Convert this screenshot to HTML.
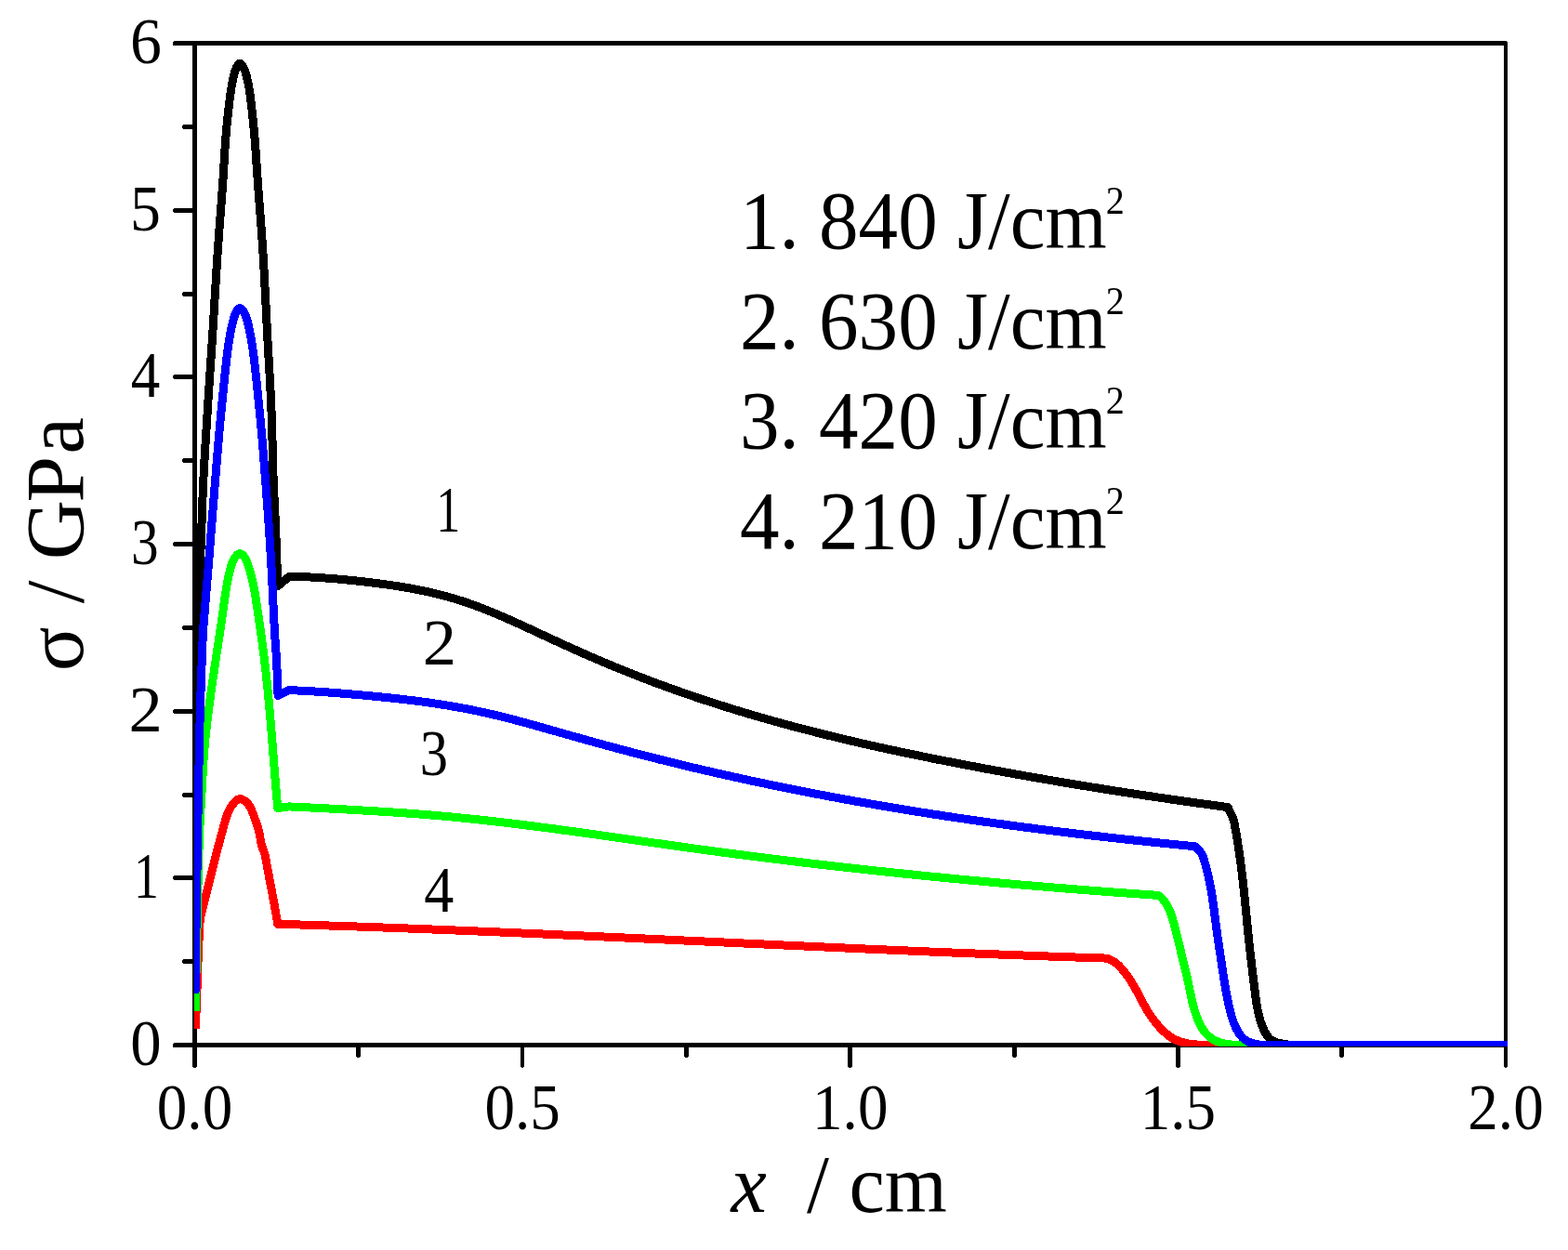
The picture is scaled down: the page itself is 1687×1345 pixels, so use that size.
<!DOCTYPE html>
<html lang="en"><head><meta charset="utf-8"><title>Stress profiles</title>
<style>html,body{margin:0;padding:0;background:#fff;}body{width:1687px;height:1345px;overflow:hidden;}svg{display:block;}text{font-family:"Liberation Serif",serif;fill:#000;white-space:pre;}</style>
</head><body>
<svg width="1687" height="1345" viewBox="0 0 1687 1345">
<rect x="0" y="0" width="1687" height="1345" fill="#fff"/>
<defs><clipPath id="plot"><rect x="209" y="40" width="1413" height="1086"/></clipPath></defs>
<g fill="#000" shape-rendering="crispEdges">
<rect x="207" y="44" width="5" height="1104"/>
<rect x="208" y="1148" width="3" height="1"/>
<rect x="1618" y="45" width="4" height="1103"/>
<rect x="1619" y="1148" width="2" height="1"/>
<rect x="187" y="44" width="1434" height="5"/>
<rect x="186" y="45" width="1" height="4"/>
<rect x="187" y="1122" width="1435" height="5"/>
<rect x="186" y="1123" width="1" height="4"/>
</g>
<g fill="#000" shape-rendering="crispEdges">
<rect x="560" y="1126" width="4" height="22"/>
<rect x="561" y="1148" width="2" height="1"/>
<rect x="912" y="1126" width="5" height="22"/>
<rect x="913" y="1148" width="3" height="1"/>
<rect x="1265" y="1126" width="5" height="22"/>
<rect x="1266" y="1148" width="3" height="1"/>
<rect x="383" y="1126" width="5" height="11"/>
<rect x="384" y="1137" width="3" height="1"/>
<rect x="736" y="1126" width="5" height="11"/>
<rect x="737" y="1137" width="3" height="1"/>
<rect x="1089" y="1126" width="5" height="11"/>
<rect x="1090" y="1137" width="3" height="1"/>
<rect x="1441" y="1126" width="5" height="11"/>
<rect x="1442" y="1137" width="3" height="1"/>
<rect x="187" y="942" width="21" height="5"/>
<rect x="186" y="943" width="1" height="3"/>
<rect x="187" y="763" width="21" height="5"/>
<rect x="186" y="764" width="1" height="3"/>
<rect x="187" y="583" width="21" height="5"/>
<rect x="186" y="584" width="1" height="3"/>
<rect x="187" y="403" width="21" height="5"/>
<rect x="186" y="404" width="1" height="3"/>
<rect x="187" y="224" width="21" height="5"/>
<rect x="186" y="225" width="1" height="3"/>
<rect x="197" y="1032" width="11" height="5"/>
<rect x="196" y="1033" width="1" height="3"/>
<rect x="197" y="853" width="11" height="5"/>
<rect x="196" y="854" width="1" height="3"/>
<rect x="197" y="673" width="11" height="5"/>
<rect x="196" y="674" width="1" height="3"/>
<rect x="197" y="493" width="11" height="5"/>
<rect x="196" y="494" width="1" height="3"/>
<rect x="197" y="314" width="11" height="5"/>
<rect x="196" y="315" width="1" height="3"/>
<rect x="197" y="134" width="11" height="5"/>
<rect x="196" y="135" width="1" height="3"/>
</g>
<g clip-path="url(#plot)" fill="none" stroke-width="9.00" stroke-linejoin="round" stroke-linecap="butt" shape-rendering="crispEdges">
<path stroke="#000000" d="M209.80,1052.00 L209.90,1035.11 L209.99,1018.13 L210.08,1001.09 L210.16,984.02 L210.25,966.95 L210.34,949.91 L210.43,932.93 L210.52,916.04 L210.63,899.28 L210.74,882.66 L210.86,866.22 L211.00,850.00 L211.13,835.00 L211.27,819.65 L211.41,804.10 L211.56,788.51 L211.71,773.02 L211.87,757.78 L212.04,742.94 L212.21,728.65 L212.39,715.06 L212.59,702.32 L212.79,690.59 L213.00,680.00 L213.12,674.80 L213.24,669.96 L213.37,665.44 L213.50,661.17 L213.63,657.11 L213.76,653.21 L213.90,649.40 L214.03,645.64 L214.17,641.87 L214.31,638.05 L214.46,634.11 L214.60,630.00 L214.75,625.71 L214.90,621.43 L215.05,617.14 L215.21,612.86 L215.36,608.56 L215.52,604.26 L215.68,599.94 L215.84,595.60 L216.01,591.24 L216.17,586.86 L216.33,582.45 L216.50,578.00 L216.67,573.27 L216.84,568.54 L217.00,563.81 L217.16,559.06 L217.32,554.28 L217.48,549.48 L217.65,544.63 L217.83,539.73 L218.03,534.76 L218.23,529.73 L218.46,524.61 L218.70,519.40 L219.01,513.19 L219.34,506.82 L219.70,500.33 L220.07,493.74 L220.47,487.06 L220.87,480.31 L221.28,473.52 L221.70,466.72 L222.13,459.91 L222.56,453.12 L222.98,446.38 L223.40,439.70 L223.82,433.07 L224.25,426.46 L224.68,419.87 L225.13,413.29 L225.57,406.70 L226.02,400.11 L226.47,393.51 L226.92,386.88 L227.37,380.22 L227.81,373.53 L228.26,366.79 L228.70,360.00 L229.16,352.75 L229.62,345.39 L230.07,337.96 L230.52,330.46 L230.98,322.93 L231.43,315.39 L231.88,307.88 L232.34,300.40 L232.80,292.99 L233.26,285.67 L233.73,278.46 L234.20,271.40 L234.63,265.17 L235.07,259.01 L235.51,252.93 L235.96,246.90 L236.41,240.93 L236.87,235.00 L237.32,229.11 L237.76,223.26 L238.21,217.43 L238.65,211.61 L239.08,205.80 L239.50,200.00 L239.88,194.46 L240.25,188.90 L240.59,183.34 L240.93,177.79 L241.27,172.26 L241.60,166.77 L241.95,161.32 L242.30,155.93 L242.68,150.61 L243.09,145.38 L243.52,140.24 L244.00,135.20 L244.44,130.89 L244.89,126.52 L245.36,122.14 L245.84,117.78 L246.35,113.47 L246.86,109.25 L247.39,105.14 L247.93,101.19 L248.48,97.43 L249.04,93.89 L249.62,90.60 L250.20,87.60 L250.53,86.00 L250.86,84.46 L251.19,82.97 L251.52,81.54 L251.85,80.17 L252.19,78.87 L252.54,77.63 L252.89,76.46 L253.27,75.36 L253.66,74.33 L254.07,73.38 L254.50,72.50 L254.77,72.00 L255.04,71.50 L255.32,71.01 L255.61,70.54 L255.90,70.08 L256.19,69.67 L256.49,69.29 L256.79,68.96 L257.09,68.69 L257.40,68.48 L257.70,68.35 L258.00,68.30 L258.31,68.34 L258.63,68.46 L258.95,68.66 L259.27,68.93 L259.60,69.26 L259.93,69.64 L260.25,70.06 L260.58,70.52 L260.89,71.00 L261.20,71.49 L261.51,72.00 L261.80,72.50 L262.27,73.38 L262.72,74.33 L263.16,75.35 L263.58,76.45 L263.98,77.62 L264.38,78.86 L264.76,80.16 L265.14,81.53 L265.51,82.96 L265.87,84.45 L266.24,86.00 L266.60,87.60 L267.22,90.60 L267.81,93.88 L268.39,97.43 L268.94,101.19 L269.47,105.15 L269.99,109.25 L270.49,113.48 L270.98,117.79 L271.45,122.15 L271.91,126.53 L272.36,130.89 L272.80,135.20 L273.29,140.20 L273.75,145.29 L274.17,150.48 L274.58,155.74 L274.97,161.07 L275.35,166.46 L275.72,171.90 L276.08,177.37 L276.45,182.86 L276.82,188.37 L277.20,193.89 L277.60,199.40 L278.04,205.23 L278.48,211.08 L278.93,216.94 L279.39,222.82 L279.84,228.74 L280.30,234.69 L280.75,240.68 L281.20,246.71 L281.64,252.79 L282.07,258.93 L282.49,265.13 L282.90,271.40 L283.33,278.44 L283.76,285.60 L284.17,292.87 L284.56,300.23 L284.95,307.64 L285.34,315.10 L285.72,322.57 L286.09,330.04 L286.47,337.48 L286.84,344.86 L287.22,352.18 L287.60,359.40 L287.97,366.22 L288.35,373.00 L288.73,379.74 L289.12,386.45 L289.50,393.13 L289.88,399.80 L290.25,406.45 L290.61,413.09 L290.96,419.73 L291.30,426.37 L291.61,433.03 L291.90,439.70 L292.16,446.41 L292.40,453.23 L292.62,460.11 L292.82,467.03 L293.00,473.94 L293.18,480.81 L293.35,487.62 L293.52,494.32 L293.70,500.88 L293.89,507.27 L294.08,513.46 L294.30,519.40 L294.48,523.84 L294.67,528.14 L294.86,532.31 L295.06,536.37 L295.26,540.35 L295.46,544.27 L295.66,548.15 L295.86,552.00 L296.06,555.85 L296.25,559.72 L296.43,563.63 L296.60,567.60 L296.76,571.66 L296.92,575.85 L297.08,580.14 L297.23,584.46 L297.38,588.79 L297.52,593.06 L297.66,597.25 L297.80,601.29 L297.93,605.16 L298.06,608.79 L298.18,612.16 L298.30,615.20 L298.37,616.77 L298.43,618.24 L298.49,619.62 L298.55,620.93 L298.61,622.17 L298.66,623.38 L298.72,624.55 L298.77,625.71 L298.83,626.87 L298.89,628.05 L298.94,629.25 L299.00,630.50 L311.50,620.20 L315.50,620.29 L319.50,620.40 L323.50,620.53 L327.50,620.69 L331.50,620.87 L335.50,621.08 L339.50,621.30 L343.50,621.55 L347.50,621.82 L351.50,622.10 L355.50,622.41 L359.50,622.73 L363.50,623.07 L367.50,623.43 L371.50,623.81 L375.50,624.20 L379.50,624.61 L383.50,625.03 L387.50,625.47 L391.50,625.92 L395.50,626.39 L399.50,626.87 L403.50,627.36 L407.50,627.87 L411.50,628.40 L415.50,628.95 L419.50,629.51 L423.50,630.10 L427.50,630.72 L431.50,631.36 L435.50,632.02 L439.50,632.71 L443.50,633.44 L447.50,634.19 L451.50,634.98 L455.50,635.80 L459.50,636.66 L463.50,637.55 L467.50,638.49 L471.50,639.46 L475.50,640.48 L479.50,641.54 L483.50,642.64 L487.50,643.79 L491.50,644.99 L495.50,646.24 L499.50,647.54 L503.50,648.89 L507.50,650.29 L511.50,651.74 L515.50,653.24 L519.50,654.77 L523.50,656.35 L527.50,657.97 L531.50,659.61 L535.50,661.30 L539.50,663.01 L543.50,664.75 L547.50,666.51 L551.50,668.29 L555.50,670.10 L559.50,671.91 L563.50,673.75 L567.50,675.59 L571.50,677.45 L575.50,679.31 L579.50,681.17 L583.50,683.03 L587.50,684.90 L591.50,686.75 L595.50,688.61 L599.50,690.45 L603.50,692.28 L607.50,694.10 L611.50,695.91 L615.50,697.72 L619.50,699.51 L623.50,701.29 L627.50,703.05 L631.50,704.81 L635.50,706.55 L639.50,708.28 L643.50,710.00 L647.50,711.71 L651.50,713.40 L655.50,715.08 L659.50,716.74 L663.50,718.39 L667.50,720.03 L671.50,721.65 L675.50,723.25 L679.50,724.84 L683.50,726.42 L687.50,727.98 L691.50,729.53 L695.50,731.06 L699.50,732.58 L703.50,734.09 L707.50,735.58 L711.50,737.06 L715.50,738.52 L719.50,739.97 L723.50,741.41 L727.50,742.83 L731.50,744.25 L735.50,745.64 L739.50,747.03 L743.50,748.40 L747.50,749.76 L751.50,751.11 L755.50,752.45 L759.50,753.77 L763.50,755.08 L767.50,756.38 L771.50,757.67 L775.50,758.94 L779.50,760.21 L783.50,761.46 L787.50,762.70 L791.50,763.93 L795.50,765.15 L799.50,766.36 L803.50,767.56 L807.50,768.74 L811.50,769.92 L815.50,771.08 L819.50,772.24 L823.50,773.38 L827.50,774.51 L831.50,775.64 L835.50,776.75 L839.50,777.85 L843.50,778.95 L847.50,780.03 L851.50,781.11 L855.50,782.17 L859.50,783.23 L863.50,784.28 L867.50,785.32 L871.50,786.35 L875.50,787.37 L879.50,788.38 L883.50,789.38 L887.50,790.38 L891.50,791.37 L895.50,792.34 L899.50,793.32 L903.50,794.28 L907.50,795.23 L911.50,796.18 L915.50,797.12 L919.50,798.05 L923.50,798.98 L927.50,799.90 L931.50,800.81 L935.50,801.71 L939.50,802.61 L943.50,803.50 L947.50,804.38 L951.50,805.26 L955.50,806.13 L959.50,806.99 L963.50,807.85 L967.50,808.70 L971.50,809.55 L975.50,810.39 L979.50,811.23 L983.50,812.06 L987.50,812.88 L991.50,813.70 L995.50,814.51 L999.50,815.32 L1003.50,816.13 L1007.50,816.93 L1011.50,817.72 L1015.50,818.51 L1019.50,819.30 L1023.50,820.08 L1027.50,820.85 L1031.50,821.63 L1035.50,822.39 L1039.50,823.16 L1043.50,823.92 L1047.50,824.68 L1051.50,825.43 L1055.50,826.18 L1059.50,826.93 L1063.50,827.67 L1067.50,828.41 L1071.50,829.15 L1075.50,829.88 L1079.50,830.61 L1083.50,831.34 L1087.50,832.06 L1091.50,832.78 L1095.50,833.49 L1099.50,834.20 L1103.50,834.91 L1107.50,835.62 L1111.50,836.32 L1115.50,837.01 L1119.50,837.71 L1123.50,838.40 L1127.50,839.09 L1131.50,839.77 L1135.50,840.45 L1139.50,841.13 L1143.50,841.80 L1147.50,842.48 L1151.50,843.14 L1155.50,843.81 L1159.50,844.47 L1163.50,845.13 L1167.50,845.78 L1171.50,846.43 L1175.50,847.08 L1179.50,847.73 L1183.50,848.37 L1187.50,849.01 L1191.50,849.64 L1195.50,850.27 L1199.50,850.90 L1203.50,851.53 L1207.50,852.15 L1211.50,852.77 L1215.50,853.39 L1219.50,854.00 L1223.50,854.61 L1227.50,855.22 L1231.50,855.82 L1235.50,856.42 L1239.50,857.02 L1243.50,857.62 L1247.50,858.21 L1251.50,858.80 L1255.50,859.39 L1259.50,859.97 L1263.50,860.55 L1267.50,861.13 L1271.50,861.70 L1275.50,862.27 L1279.50,862.84 L1283.50,863.41 L1287.50,863.97 L1291.50,864.53 L1295.50,865.09 L1299.50,865.64 L1303.50,866.19 L1307.50,866.74 L1311.50,867.29 L1315.50,867.83 L1319.50,868.37 L1321.20,868.60 L1321.75,869.97 L1322.35,871.34 L1322.97,872.70 L1323.61,874.05 L1324.26,875.41 L1324.89,876.77 L1325.50,878.14 L1326.08,879.52 L1326.61,880.92 L1327.08,882.33 L1327.49,883.76 L1327.85,885.21 L1328.17,886.66 L1328.46,888.13 L1328.74,889.60 L1329.01,891.07 L1329.27,892.54 L1329.53,894.01 L1329.79,895.48 L1330.05,896.95 L1330.30,898.43 L1330.55,899.90 L1330.80,901.37 L1331.04,902.84 L1331.29,904.32 L1331.53,905.79 L1331.76,907.26 L1331.99,908.74 L1332.22,910.21 L1332.45,911.69 L1332.67,913.16 L1332.90,914.64 L1333.11,916.11 L1333.33,917.59 L1333.54,919.07 L1333.75,920.54 L1333.96,922.02 L1334.16,923.50 L1334.36,924.98 L1334.56,926.46 L1334.76,927.94 L1334.95,929.42 L1335.14,930.90 L1335.33,932.38 L1335.52,933.86 L1335.70,935.34 L1335.88,936.82 L1336.06,938.30 L1336.24,939.79 L1336.42,941.27 L1336.59,942.75 L1336.76,944.24 L1336.93,945.72 L1337.10,947.20 L1337.27,948.69 L1337.43,950.17 L1337.60,951.66 L1337.76,953.14 L1337.92,954.63 L1338.08,956.11 L1338.23,957.60 L1338.39,959.08 L1338.55,960.57 L1338.70,962.06 L1338.85,963.54 L1339.01,965.03 L1339.16,966.51 L1339.31,968.00 L1339.46,969.49 L1339.61,970.97 L1339.75,972.46 L1339.90,973.95 L1340.05,975.43 L1340.20,976.92 L1340.34,978.41 L1340.49,979.89 L1340.63,981.38 L1340.78,982.87 L1340.93,984.35 L1341.07,985.84 L1341.22,987.33 L1341.36,988.81 L1341.51,990.30 L1341.65,991.79 L1341.80,993.27 L1341.95,994.76 L1342.09,996.24 L1342.24,997.73 L1342.39,999.21 L1342.54,1000.70 L1342.69,1002.18 L1342.84,1003.67 L1342.99,1005.15 L1343.14,1006.64 L1343.30,1008.12 L1343.45,1009.61 L1343.60,1011.09 L1343.76,1012.57 L1343.92,1014.06 L1344.08,1015.54 L1344.24,1017.02 L1344.40,1018.50 L1344.56,1019.98 L1344.73,1021.47 L1344.89,1022.95 L1345.06,1024.43 L1345.23,1025.91 L1345.40,1027.39 L1345.57,1028.87 L1345.74,1030.35 L1345.91,1031.83 L1346.08,1033.31 L1346.26,1034.79 L1346.43,1036.27 L1346.61,1037.75 L1346.79,1039.23 L1346.97,1040.71 L1347.15,1042.19 L1347.33,1043.67 L1347.51,1045.15 L1347.69,1046.64 L1347.87,1048.12 L1348.05,1049.60 L1348.23,1051.08 L1348.42,1052.56 L1348.60,1054.05 L1348.78,1055.53 L1348.97,1057.01 L1349.15,1058.50 L1349.34,1059.98 L1349.52,1061.47 L1349.71,1062.95 L1349.89,1064.44 L1350.08,1065.93 L1350.26,1067.42 L1350.45,1068.90 L1350.64,1070.39 L1350.83,1071.88 L1351.02,1073.37 L1351.22,1074.85 L1351.43,1076.34 L1351.64,1077.82 L1351.87,1079.30 L1352.10,1080.78 L1352.34,1082.26 L1352.60,1083.73 L1352.86,1085.20 L1353.14,1086.67 L1353.44,1088.13 L1353.75,1089.59 L1354.08,1091.05 L1354.42,1092.49 L1354.79,1093.94 L1355.17,1095.38 L1355.58,1096.81 L1356.01,1098.23 L1356.46,1099.65 L1356.94,1101.06 L1357.44,1102.47 L1357.97,1103.87 L1358.52,1105.25 L1359.11,1106.63 L1359.72,1108.01 L1360.37,1109.37 L1361.05,1110.70 L1361.78,1112.01 L1362.56,1113.28 L1363.39,1114.50 L1364.28,1115.66 L1365.24,1116.75 L1366.28,1117.76 L1367.39,1118.69 L1368.59,1119.52 L1369.87,1120.25 L1371.25,1120.87 L1372.70,1121.39 L1374.20,1121.84 L1375.72,1122.22 L1377.26,1122.56 L1378.78,1122.87 L1380.27,1123.16 L1381.75,1123.43 L1383.20,1123.68 L1384.65,1123.90 L1386.10,1124.10 L1387.54,1124.26 L1388.99,1124.39 L1390.46,1124.48 L1391.94,1124.54 L1393.44,1124.55 L1395.00,1124.50 L1410.00,1124.50 L1630.00,1124.50"/>
<path stroke="#ff0000" d="M210.40,1107.00 L210.55,1102.94 L210.70,1098.85 L210.86,1094.74 L211.01,1090.61 L211.16,1086.49 L211.31,1082.38 L211.47,1078.29 L211.62,1074.23 L211.77,1070.21 L211.91,1066.24 L212.06,1062.33 L212.20,1058.50 L212.32,1055.15 L212.44,1051.84 L212.55,1048.55 L212.67,1045.29 L212.78,1042.06 L212.89,1038.87 L213.00,1035.72 L213.11,1032.60 L213.23,1029.51 L213.35,1026.47 L213.47,1023.46 L213.60,1020.50 L213.72,1017.90 L213.84,1015.22 L213.97,1012.51 L214.10,1009.79 L214.23,1007.09 L214.36,1004.46 L214.49,1001.93 L214.62,999.52 L214.75,997.29 L214.87,995.25 L214.99,993.44 L215.10,991.90 L215.14,991.35 L215.19,990.85 L215.23,990.39 L215.27,989.96 L215.31,989.57 L215.35,989.19 L215.40,988.84 L215.44,988.48 L215.48,988.13 L215.52,987.77 L215.56,987.40 L215.60,987.00 L216.00,985.58 L216.36,984.12 L216.72,982.65 L217.08,981.19 L217.44,979.73 L217.80,978.28 L218.16,976.82 L218.52,975.36 L218.88,973.90 L219.24,972.45 L219.60,970.99 L219.96,969.54 L220.32,968.09 L220.68,966.63 L221.04,965.18 L221.39,963.73 L221.75,962.28 L222.11,960.83 L222.47,959.38 L222.83,957.93 L223.19,956.48 L223.55,955.03 L223.91,953.59 L224.27,952.14 L224.63,950.69 L224.99,949.25 L225.35,947.80 L225.71,946.35 L226.07,944.91 L226.43,943.46 L226.79,942.02 L227.16,940.57 L227.52,939.13 L227.88,937.68 L228.25,936.24 L228.61,934.79 L228.98,933.35 L229.35,931.90 L229.71,930.46 L230.08,929.01 L230.45,927.57 L230.82,926.13 L231.19,924.68 L231.56,923.24 L231.94,921.79 L232.31,920.35 L232.68,918.90 L233.06,917.46 L233.43,916.01 L233.81,914.57 L234.19,913.12 L234.57,911.67 L234.95,910.23 L235.33,908.78 L235.72,907.33 L236.10,905.89 L236.49,904.44 L236.88,902.99 L237.27,901.54 L237.66,900.09 L238.05,898.64 L238.44,897.19 L238.84,895.74 L239.23,894.29 L239.63,892.84 L240.03,891.38 L240.43,889.93 L240.84,888.48 L241.24,887.02 L241.65,885.57 L242.06,884.11 L242.48,882.66 L242.91,881.21 L243.36,879.78 L243.83,878.35 L244.33,876.94 L244.85,875.54 L245.41,874.16 L246.01,872.80 L246.64,871.47 L247.32,870.15 L248.05,868.87 L248.84,867.62 L249.68,866.40 L250.58,865.21 L251.54,864.06 L252.58,862.96 L253.69,861.89 L254.88,860.91 L256.13,860.13 L257.45,859.66 L258.84,859.61 L260.26,859.98 L261.63,860.60 L262.90,861.35 L264.07,862.22 L265.16,863.19 L266.16,864.25 L267.08,865.40 L267.94,866.62 L268.73,867.90 L269.47,869.24 L270.15,870.62 L270.80,872.04 L271.41,873.48 L271.98,874.93 L272.54,876.39 L273.08,877.84 L273.60,879.27 L274.12,880.69 L274.63,882.09 L275.13,883.48 L275.62,884.86 L276.09,886.24 L276.54,887.61 L276.98,888.99 L277.40,890.37 L277.79,891.77 L278.17,893.18 L278.52,894.61 L278.84,896.05 L279.14,897.52 L279.43,899.00 L279.71,900.49 L279.99,901.98 L280.27,903.48 L280.57,904.98 L280.88,906.47 L281.21,907.95 L281.58,909.42 L281.99,910.87 L282.43,912.30 L282.92,913.71 L283.42,915.11 L283.93,916.50 L284.42,917.90 L284.87,919.31 L285.28,920.74 L285.62,922.19 L285.92,923.65 L286.19,925.13 L286.44,926.62 L286.69,928.10 L286.93,929.59 L287.19,931.07 L287.45,932.54 L287.72,934.02 L287.99,935.49 L288.26,936.96 L288.54,938.42 L288.82,939.89 L289.10,941.36 L289.38,942.82 L289.67,944.29 L289.95,945.75 L290.23,947.22 L290.51,948.69 L290.79,950.15 L291.07,951.62 L291.35,953.09 L291.63,954.56 L291.90,956.03 L292.18,957.50 L292.46,958.97 L292.73,960.44 L293.00,961.91 L293.28,963.38 L293.55,964.85 L293.82,966.32 L294.09,967.80 L294.36,969.27 L294.62,970.74 L294.89,972.21 L295.16,973.68 L295.42,975.16 L295.69,976.63 L295.95,978.10 L296.22,979.57 L296.48,981.05 L296.74,982.52 L297.00,983.99 L297.26,985.47 L297.52,986.94 L297.78,988.41 L298.03,989.88 L298.29,991.36 L298.55,992.83 L298.80,994.30 L302.80,994.41 L306.80,994.53 L310.80,994.65 L314.80,994.77 L318.80,994.89 L322.80,995.01 L326.80,995.13 L330.80,995.25 L334.80,995.38 L338.80,995.51 L342.80,995.63 L346.80,995.76 L350.80,995.89 L354.80,996.02 L358.80,996.15 L362.80,996.29 L366.80,996.42 L370.80,996.56 L374.80,996.69 L378.80,996.83 L382.80,996.97 L386.80,997.11 L390.80,997.25 L394.80,997.39 L398.80,997.53 L402.80,997.67 L406.80,997.82 L410.80,997.96 L414.80,998.11 L418.80,998.26 L422.80,998.40 L426.80,998.55 L430.80,998.70 L434.80,998.85 L438.80,999.01 L442.80,999.16 L446.80,999.31 L450.80,999.47 L454.80,999.62 L458.80,999.78 L462.80,999.93 L466.80,1000.09 L470.80,1000.25 L474.80,1000.41 L478.80,1000.57 L482.80,1000.73 L486.80,1000.89 L490.80,1001.05 L494.80,1001.22 L498.80,1001.38 L502.80,1001.54 L506.80,1001.71 L510.80,1001.88 L514.80,1002.04 L518.80,1002.21 L522.80,1002.38 L526.80,1002.55 L530.80,1002.71 L534.80,1002.88 L538.80,1003.06 L542.80,1003.23 L546.80,1003.40 L550.80,1003.57 L554.80,1003.74 L558.80,1003.92 L562.80,1004.09 L566.80,1004.26 L570.80,1004.44 L574.80,1004.61 L578.80,1004.79 L582.80,1004.97 L586.80,1005.14 L590.80,1005.32 L594.80,1005.50 L598.80,1005.68 L602.80,1005.86 L606.80,1006.04 L610.80,1006.22 L614.80,1006.40 L618.80,1006.58 L622.80,1006.76 L626.80,1006.94 L630.80,1007.12 L634.80,1007.30 L638.80,1007.48 L642.80,1007.67 L646.80,1007.85 L650.80,1008.03 L654.80,1008.22 L658.80,1008.40 L662.80,1008.59 L666.80,1008.77 L670.80,1008.95 L674.80,1009.14 L678.80,1009.33 L682.80,1009.51 L686.80,1009.70 L690.80,1009.88 L694.80,1010.07 L698.80,1010.25 L702.80,1010.44 L706.80,1010.63 L710.80,1010.81 L714.80,1011.00 L718.80,1011.19 L722.80,1011.37 L726.80,1011.56 L730.80,1011.75 L734.80,1011.94 L738.80,1012.12 L742.80,1012.31 L746.80,1012.50 L750.80,1012.69 L754.80,1012.87 L758.80,1013.06 L762.80,1013.25 L766.80,1013.44 L770.80,1013.63 L774.80,1013.81 L778.80,1014.00 L782.80,1014.19 L786.80,1014.38 L790.80,1014.56 L794.80,1014.75 L798.80,1014.94 L802.80,1015.12 L806.80,1015.31 L810.80,1015.50 L814.80,1015.69 L818.80,1015.87 L822.80,1016.06 L826.80,1016.24 L830.80,1016.43 L834.80,1016.62 L838.80,1016.80 L842.80,1016.99 L846.80,1017.17 L850.80,1017.36 L854.80,1017.54 L858.80,1017.73 L862.80,1017.91 L866.80,1018.10 L870.80,1018.28 L874.80,1018.46 L878.80,1018.65 L882.80,1018.83 L886.80,1019.01 L890.80,1019.19 L894.80,1019.38 L898.80,1019.56 L902.80,1019.74 L906.80,1019.92 L910.80,1020.10 L914.80,1020.28 L918.80,1020.46 L922.80,1020.64 L926.80,1020.82 L930.80,1020.99 L934.80,1021.17 L938.80,1021.35 L942.80,1021.53 L946.80,1021.70 L950.80,1021.88 L954.80,1022.05 L958.80,1022.23 L962.80,1022.40 L966.80,1022.58 L970.80,1022.75 L974.80,1022.92 L978.80,1023.09 L982.80,1023.27 L986.80,1023.44 L990.80,1023.61 L994.80,1023.78 L998.80,1023.94 L1002.80,1024.11 L1006.80,1024.28 L1010.80,1024.45 L1014.80,1024.61 L1018.80,1024.78 L1022.80,1024.94 L1026.80,1025.11 L1030.80,1025.27 L1034.80,1025.43 L1038.80,1025.60 L1042.80,1025.76 L1046.80,1025.92 L1050.80,1026.08 L1054.80,1026.24 L1058.80,1026.39 L1062.80,1026.55 L1066.80,1026.71 L1070.80,1026.86 L1074.80,1027.02 L1078.80,1027.17 L1082.80,1027.32 L1086.80,1027.48 L1090.80,1027.63 L1094.80,1027.78 L1098.80,1027.93 L1102.80,1028.08 L1106.80,1028.22 L1110.80,1028.37 L1114.80,1028.51 L1118.80,1028.66 L1122.80,1028.80 L1126.80,1028.95 L1130.80,1029.09 L1134.80,1029.23 L1138.80,1029.37 L1142.80,1029.51 L1146.80,1029.64 L1150.80,1029.78 L1154.80,1029.92 L1158.80,1030.05 L1162.80,1030.18 L1166.80,1030.32 L1170.80,1030.45 L1174.80,1030.58 L1178.80,1030.71 L1182.80,1030.83 L1186.80,1030.96 L1188.00,1031.00 L1189.52,1031.17 L1191.02,1031.48 L1192.47,1031.88 L1193.87,1032.38 L1195.23,1032.96 L1196.55,1033.63 L1197.82,1034.37 L1199.05,1035.18 L1200.25,1036.05 L1201.41,1036.98 L1202.54,1037.96 L1203.63,1038.98 L1204.70,1040.04 L1205.74,1041.13 L1206.75,1042.25 L1207.74,1043.39 L1208.70,1044.54 L1209.65,1045.71 L1210.58,1046.89 L1211.49,1048.09 L1212.37,1049.30 L1213.25,1050.52 L1214.10,1051.75 L1214.94,1052.99 L1215.77,1054.24 L1216.58,1055.50 L1217.37,1056.76 L1218.16,1058.04 L1218.93,1059.32 L1219.69,1060.61 L1220.45,1061.90 L1221.19,1063.20 L1221.93,1064.51 L1222.66,1065.81 L1223.38,1067.12 L1224.10,1068.44 L1224.81,1069.75 L1225.51,1071.07 L1226.22,1072.39 L1226.91,1073.72 L1227.61,1075.04 L1228.30,1076.37 L1228.99,1077.70 L1229.68,1079.02 L1230.38,1080.35 L1231.09,1081.66 L1231.81,1082.98 L1232.54,1084.28 L1233.29,1085.57 L1234.05,1086.86 L1234.82,1088.14 L1235.61,1089.41 L1236.41,1090.67 L1237.22,1091.92 L1238.05,1093.16 L1238.90,1094.39 L1239.77,1095.60 L1240.64,1096.81 L1241.54,1098.01 L1242.45,1099.19 L1243.38,1100.36 L1244.33,1101.52 L1245.30,1102.67 L1246.28,1103.80 L1247.28,1104.92 L1248.30,1106.02 L1249.34,1107.12 L1250.40,1108.19 L1251.48,1109.25 L1252.58,1110.29 L1253.70,1111.31 L1254.84,1112.30 L1256.00,1113.25 L1257.19,1114.18 L1258.40,1115.06 L1259.63,1115.91 L1260.89,1116.70 L1262.17,1117.45 L1263.48,1118.15 L1264.81,1118.80 L1266.16,1119.40 L1267.53,1119.96 L1268.92,1120.47 L1270.33,1120.95 L1271.75,1121.38 L1273.19,1121.77 L1274.64,1122.13 L1276.10,1122.45 L1277.58,1122.74 L1279.06,1123.00 L1280.54,1123.24 L1282.04,1123.44 L1283.53,1123.62 L1285.03,1123.78 L1286.53,1123.92 L1288.03,1124.03 L1289.53,1124.13 L1291.03,1124.21 L1292.53,1124.28 L1294.03,1124.33 L1295.53,1124.38 L1297.03,1124.41 L1298.52,1124.43 L1300.00,1124.50 L1315.00,1124.50 L1630.00,1124.50"/>
<path stroke="#00ff00" d="M210.20,1088.00 L210.35,1080.68 L210.49,1073.40 L210.64,1066.13 L210.78,1058.87 L210.92,1051.62 L211.07,1044.35 L211.21,1037.06 L211.36,1029.75 L211.51,1022.40 L211.67,1014.99 L211.83,1007.53 L212.00,1000.00 L212.18,991.81 L212.36,983.41 L212.54,974.86 L212.72,966.22 L212.90,957.52 L213.09,948.84 L213.29,940.22 L213.50,931.72 L213.72,923.39 L213.96,915.30 L214.22,907.48 L214.50,900.00 L214.73,894.42 L214.98,889.02 L215.24,883.79 L215.51,878.68 L215.79,873.68 L216.08,868.75 L216.37,863.88 L216.66,859.04 L216.95,854.20 L217.24,849.32 L217.52,844.40 L217.80,839.40 L217.86,837.90 L217.92,836.40 L217.99,834.90 L218.06,833.40 L218.13,831.90 L218.21,830.40 L218.29,828.90 L218.38,827.41 L218.47,825.91 L218.56,824.41 L218.65,822.91 L218.75,821.42 L218.85,819.92 L218.95,818.42 L219.06,816.93 L219.17,815.43 L219.28,813.94 L219.40,812.44 L219.51,810.95 L219.63,809.45 L219.76,807.96 L219.88,806.47 L220.01,804.97 L220.15,803.48 L220.28,801.99 L220.42,800.49 L220.56,799.00 L220.70,797.51 L220.84,796.02 L220.99,794.53 L221.14,793.04 L221.29,791.54 L221.44,790.05 L221.60,788.56 L221.76,787.07 L221.92,785.58 L222.08,784.09 L222.25,782.60 L222.41,781.11 L222.58,779.63 L222.76,778.14 L222.93,776.65 L223.10,775.16 L223.28,773.67 L223.46,772.18 L223.64,770.70 L223.82,769.21 L224.01,767.72 L224.19,766.23 L224.38,764.75 L224.57,763.26 L224.76,761.77 L224.95,760.29 L225.15,758.80 L225.34,757.31 L225.54,755.83 L225.74,754.34 L225.94,752.86 L226.14,751.37 L226.34,749.88 L226.55,748.40 L226.75,746.91 L226.96,745.43 L227.16,743.94 L227.37,742.46 L227.58,740.98 L227.79,739.49 L228.01,738.01 L228.22,736.52 L228.43,735.04 L228.65,733.55 L228.86,732.07 L229.08,730.59 L229.29,729.10 L229.51,727.62 L229.73,726.14 L229.95,724.65 L230.17,723.17 L230.39,721.69 L230.61,720.20 L230.83,718.72 L231.05,717.24 L231.27,715.75 L231.50,714.27 L231.72,712.79 L231.94,711.31 L232.17,709.82 L232.39,708.34 L232.61,706.86 L232.84,705.38 L233.06,703.89 L233.29,702.41 L233.51,700.93 L233.74,699.45 L233.96,697.96 L234.18,696.48 L234.41,695.00 L234.63,693.52 L234.86,692.04 L235.08,690.55 L235.30,689.07 L235.53,687.59 L235.75,686.11 L235.97,684.62 L236.20,683.14 L236.42,681.66 L236.64,680.18 L236.86,678.70 L237.08,677.21 L237.30,675.73 L237.52,674.25 L237.74,672.77 L237.96,671.28 L238.17,669.80 L238.39,668.32 L238.60,666.84 L238.82,665.35 L239.03,663.87 L239.25,662.39 L239.46,660.91 L239.67,659.42 L239.88,657.94 L240.09,656.46 L240.30,654.98 L240.50,653.49 L240.71,652.01 L240.91,650.53 L241.12,649.04 L241.32,647.56 L241.53,646.08 L241.74,644.60 L241.95,643.11 L242.16,641.63 L242.37,640.15 L242.59,638.67 L242.82,637.19 L243.05,635.71 L243.28,634.23 L243.52,632.75 L243.77,631.28 L244.02,629.80 L244.28,628.33 L244.55,626.85 L244.83,625.38 L245.12,623.91 L245.42,622.44 L245.73,620.97 L246.05,619.50 L246.38,618.04 L246.72,616.57 L247.08,615.11 L247.45,613.65 L247.83,612.19 L248.23,610.73 L248.65,609.28 L249.09,607.84 L249.58,606.41 L250.12,605.00 L250.72,603.62 L251.39,602.27 L252.14,600.95 L252.98,599.68 L253.92,598.45 L254.96,597.30 L256.10,596.38 L257.31,595.85 L258.58,595.84 L259.87,596.35 L261.11,597.24 L262.22,598.38 L263.16,599.66 L263.96,601.01 L264.65,602.41 L265.27,603.83 L265.85,605.24 L266.40,606.66 L266.91,608.07 L267.40,609.48 L267.87,610.90 L268.32,612.31 L268.75,613.74 L269.17,615.17 L269.57,616.60 L269.96,618.04 L270.34,619.48 L270.71,620.92 L271.06,622.37 L271.40,623.82 L271.73,625.28 L272.05,626.74 L272.36,628.20 L272.66,629.66 L272.95,631.13 L273.24,632.60 L273.51,634.07 L273.78,635.54 L274.04,637.02 L274.30,638.50 L274.55,639.98 L274.79,641.46 L275.03,642.94 L275.27,644.42 L275.50,645.91 L275.73,647.39 L275.96,648.88 L276.18,650.36 L276.40,651.85 L276.63,653.33 L276.85,654.82 L277.07,656.30 L277.29,657.79 L277.51,659.28 L277.73,660.76 L277.95,662.25 L278.17,663.73 L278.39,665.21 L278.60,666.70 L278.82,668.18 L279.03,669.67 L279.25,671.15 L279.46,672.64 L279.68,674.12 L279.89,675.61 L280.10,677.09 L280.31,678.57 L280.52,680.06 L280.73,681.54 L280.93,683.03 L281.14,684.51 L281.35,686.00 L281.55,687.48 L281.75,688.96 L281.95,690.45 L282.15,691.93 L282.35,693.42 L282.55,694.90 L282.75,696.39 L282.94,697.87 L283.13,699.36 L283.33,700.84 L283.52,702.33 L283.71,703.82 L283.89,705.30 L284.08,706.79 L284.26,708.27 L284.44,709.76 L284.63,711.25 L284.80,712.74 L284.98,714.22 L285.16,715.71 L285.33,717.20 L285.50,718.69 L285.67,720.17 L285.84,721.66 L286.01,723.15 L286.17,724.64 L286.34,726.13 L286.50,727.62 L286.66,729.11 L286.82,730.60 L286.98,732.09 L287.13,733.58 L287.29,735.07 L287.44,736.56 L287.59,738.05 L287.74,739.54 L287.89,741.03 L288.04,742.52 L288.19,744.01 L288.33,745.51 L288.48,747.00 L288.62,748.49 L288.76,749.98 L288.90,751.47 L289.04,752.97 L289.18,754.46 L289.32,755.95 L289.46,757.44 L289.59,758.94 L289.73,760.43 L289.86,761.92 L289.99,763.42 L290.13,764.91 L290.26,766.40 L290.39,767.90 L290.52,769.39 L290.65,770.88 L290.77,772.38 L290.90,773.87 L291.03,775.37 L291.15,776.86 L291.28,778.35 L291.40,779.85 L291.53,781.34 L291.65,782.84 L291.77,784.33 L291.90,785.83 L292.02,787.32 L292.14,788.82 L292.26,790.31 L292.38,791.81 L292.50,793.30 L292.62,794.79 L292.74,796.29 L292.86,797.78 L292.98,799.28 L293.10,800.77 L293.22,802.27 L293.33,803.76 L293.45,805.26 L293.57,806.75 L293.69,808.25 L293.81,809.74 L293.92,811.24 L294.04,812.73 L294.16,814.23 L294.28,815.72 L294.39,817.22 L294.51,818.71 L294.63,820.21 L294.75,821.70 L294.87,823.20 L294.98,824.69 L295.10,826.18 L295.22,827.68 L295.34,829.17 L295.46,830.67 L295.58,832.16 L295.70,833.66 L295.82,835.15 L295.94,836.64 L296.06,838.14 L296.18,839.63 L296.31,841.12 L296.43,842.62 L296.55,844.11 L296.68,845.61 L296.80,847.10 L296.93,848.59 L297.05,850.08 L297.18,851.58 L297.30,853.07 L297.43,854.56 L297.56,856.06 L297.69,857.55 L297.82,859.04 L297.95,860.53 L298.08,862.02 L298.21,863.52 L298.35,865.01 L298.48,866.50 L298.62,867.99 L298.60,869.50 L310.80,867.90 L314.80,868.08 L318.80,868.27 L322.80,868.46 L326.80,868.65 L330.80,868.85 L334.80,869.04 L338.80,869.24 L342.80,869.44 L346.80,869.64 L350.80,869.85 L354.80,870.06 L358.80,870.27 L362.80,870.48 L366.80,870.69 L370.80,870.91 L374.80,871.13 L378.80,871.36 L382.80,871.58 L386.80,871.81 L390.80,872.04 L394.80,872.28 L398.80,872.51 L402.80,872.75 L406.80,873.00 L410.80,873.25 L414.80,873.50 L418.80,873.75 L422.80,874.01 L426.80,874.28 L430.80,874.55 L434.80,874.83 L438.80,875.11 L442.80,875.40 L446.80,875.70 L450.80,876.00 L454.80,876.31 L458.80,876.63 L462.80,876.95 L466.80,877.29 L470.80,877.63 L474.80,877.98 L478.80,878.34 L482.80,878.71 L486.80,879.09 L490.80,879.47 L494.80,879.86 L498.80,880.26 L502.80,880.67 L506.80,881.08 L510.80,881.50 L514.80,881.93 L518.80,882.36 L522.80,882.80 L526.80,883.25 L530.80,883.70 L534.80,884.16 L538.80,884.63 L542.80,885.10 L546.80,885.57 L550.80,886.06 L554.80,886.54 L558.80,887.04 L562.80,887.53 L566.80,888.04 L570.80,888.54 L574.80,889.05 L578.80,889.57 L582.80,890.09 L586.80,890.61 L590.80,891.14 L594.80,891.67 L598.80,892.21 L602.80,892.74 L606.80,893.29 L610.80,893.83 L614.80,894.38 L618.80,894.93 L622.80,895.48 L626.80,896.03 L630.80,896.59 L634.80,897.15 L638.80,897.71 L642.80,898.27 L646.80,898.84 L650.80,899.40 L654.80,899.97 L658.80,900.54 L662.80,901.11 L666.80,901.68 L670.80,902.25 L674.80,902.82 L678.80,903.39 L682.80,903.96 L686.80,904.53 L690.80,905.10 L694.80,905.68 L698.80,906.25 L702.80,906.82 L706.80,907.38 L710.80,907.95 L714.80,908.52 L718.80,909.09 L722.80,909.65 L726.80,910.21 L730.80,910.77 L734.80,911.33 L738.80,911.89 L742.80,912.44 L746.80,912.99 L750.80,913.54 L754.80,914.09 L758.80,914.64 L762.80,915.18 L766.80,915.72 L770.80,916.25 L774.80,916.79 L778.80,917.32 L782.80,917.85 L786.80,918.37 L790.80,918.90 L794.80,919.42 L798.80,919.94 L802.80,920.45 L806.80,920.97 L810.80,921.48 L814.80,921.99 L818.80,922.49 L822.80,923.00 L826.80,923.50 L830.80,924.00 L834.80,924.49 L838.80,924.99 L842.80,925.48 L846.80,925.97 L850.80,926.45 L854.80,926.94 L858.80,927.42 L862.80,927.90 L866.80,928.37 L870.80,928.85 L874.80,929.32 L878.80,929.79 L882.80,930.26 L886.80,930.72 L890.80,931.18 L894.80,931.64 L898.80,932.10 L902.80,932.55 L906.80,933.01 L910.80,933.46 L914.80,933.90 L918.80,934.35 L922.80,934.79 L926.80,935.23 L930.80,935.67 L934.80,936.11 L938.80,936.54 L942.80,936.97 L946.80,937.40 L950.80,937.83 L954.80,938.25 L958.80,938.68 L962.80,939.10 L966.80,939.51 L970.80,939.93 L974.80,940.34 L978.80,940.75 L982.80,941.16 L986.80,941.57 L990.80,941.97 L994.80,942.37 L998.80,942.77 L1002.80,943.17 L1006.80,943.57 L1010.80,943.96 L1014.80,944.35 L1018.80,944.74 L1022.80,945.12 L1026.80,945.51 L1030.80,945.89 L1034.80,946.27 L1038.80,946.65 L1042.80,947.02 L1046.80,947.40 L1050.80,947.77 L1054.80,948.14 L1058.80,948.50 L1062.80,948.87 L1066.80,949.23 L1070.80,949.59 L1074.80,949.95 L1078.80,950.31 L1082.80,950.66 L1086.80,951.01 L1090.80,951.36 L1094.80,951.71 L1098.80,952.06 L1102.80,952.40 L1106.80,952.74 L1110.80,953.08 L1114.80,953.42 L1118.80,953.75 L1122.80,954.09 L1126.80,954.42 L1130.80,954.75 L1134.80,955.07 L1138.80,955.40 L1142.80,955.72 L1146.80,956.04 L1150.80,956.36 L1154.80,956.68 L1158.80,956.99 L1162.80,957.31 L1166.80,957.62 L1170.80,957.93 L1174.80,958.23 L1178.80,958.54 L1182.80,958.84 L1186.80,959.14 L1190.80,959.44 L1194.80,959.74 L1198.80,960.04 L1202.80,960.33 L1206.80,960.62 L1210.80,960.91 L1214.80,961.20 L1218.80,961.49 L1222.80,961.77 L1226.80,962.05 L1230.80,962.33 L1234.80,962.61 L1238.80,962.89 L1242.80,963.16 L1246.30,963.40 L1247.55,964.27 L1248.71,965.26 L1249.80,966.29 L1250.83,967.37 L1251.81,968.48 L1252.73,969.63 L1253.60,970.82 L1254.43,972.03 L1255.21,973.28 L1255.94,974.55 L1256.63,975.85 L1257.29,977.18 L1257.91,978.53 L1258.49,979.89 L1259.05,981.28 L1259.58,982.68 L1260.08,984.10 L1260.56,985.52 L1261.02,986.96 L1261.46,988.40 L1261.89,989.85 L1262.30,991.31 L1262.71,992.77 L1263.11,994.22 L1263.50,995.68 L1263.89,997.13 L1264.28,998.58 L1264.66,1000.02 L1265.04,1001.47 L1265.42,1002.91 L1265.79,1004.35 L1266.16,1005.79 L1266.52,1007.23 L1266.89,1008.67 L1267.25,1010.11 L1267.60,1011.55 L1267.95,1012.99 L1268.30,1014.43 L1268.64,1015.87 L1268.98,1017.32 L1269.32,1018.77 L1269.65,1020.22 L1269.97,1021.67 L1270.30,1023.13 L1270.62,1024.59 L1270.95,1026.05 L1271.28,1027.51 L1271.61,1028.97 L1271.95,1030.42 L1272.30,1031.88 L1272.66,1033.33 L1273.02,1034.78 L1273.40,1036.23 L1273.77,1037.68 L1274.15,1039.13 L1274.53,1040.57 L1274.90,1042.02 L1275.28,1043.47 L1275.65,1044.91 L1276.01,1046.36 L1276.37,1047.81 L1276.72,1049.26 L1277.06,1050.72 L1277.38,1052.17 L1277.70,1053.63 L1278.01,1055.09 L1278.32,1056.55 L1278.62,1058.01 L1278.92,1059.47 L1279.21,1060.94 L1279.50,1062.40 L1279.79,1063.86 L1280.08,1065.33 L1280.37,1066.79 L1280.66,1068.25 L1280.96,1069.71 L1281.26,1071.17 L1281.57,1072.63 L1281.88,1074.09 L1282.20,1075.54 L1282.53,1076.99 L1282.87,1078.44 L1283.22,1079.89 L1283.58,1081.33 L1283.96,1082.77 L1284.35,1084.21 L1284.76,1085.64 L1285.18,1087.07 L1285.62,1088.50 L1286.08,1089.92 L1286.56,1091.33 L1287.07,1092.74 L1287.59,1094.15 L1288.13,1095.55 L1288.71,1096.94 L1289.30,1098.33 L1289.92,1099.71 L1290.57,1101.08 L1291.25,1102.44 L1291.96,1103.79 L1292.71,1105.12 L1293.48,1106.42 L1294.29,1107.69 L1295.14,1108.93 L1296.02,1110.14 L1296.94,1111.31 L1297.91,1112.43 L1298.91,1113.51 L1299.96,1114.53 L1301.05,1115.50 L1302.19,1116.41 L1303.38,1117.26 L1304.60,1118.05 L1305.87,1118.78 L1307.17,1119.46 L1308.50,1120.09 L1309.87,1120.66 L1311.26,1121.19 L1312.68,1121.67 L1314.12,1122.10 L1315.58,1122.49 L1317.05,1122.84 L1318.54,1123.15 L1320.04,1123.42 L1321.55,1123.66 L1323.06,1123.86 L1324.58,1124.02 L1326.09,1124.16 L1327.60,1124.27 L1329.10,1124.35 L1330.60,1124.41 L1332.09,1124.44 L1333.58,1124.46 L1335.00,1124.50 L1350.00,1124.50 L1630.00,1124.50"/>
<path stroke="#0000ff" d="M210.00,1069.00 L210.08,1063.34 L210.16,1057.83 L210.24,1052.42 L210.31,1047.06 L210.39,1041.70 L210.46,1036.29 L210.54,1030.79 L210.62,1025.13 L210.71,1019.27 L210.80,1013.16 L210.90,1006.76 L211.00,1000.00 L211.18,988.78 L211.37,976.46 L211.58,963.24 L211.80,949.36 L212.03,935.00 L212.27,920.40 L212.52,905.75 L212.76,891.28 L213.00,877.20 L213.24,863.72 L213.48,851.05 L213.70,839.40 L213.85,831.79 L213.99,824.52 L214.13,817.53 L214.27,810.78 L214.40,804.23 L214.54,797.82 L214.68,791.51 L214.82,785.24 L214.97,778.98 L215.14,772.66 L215.31,766.25 L215.50,759.70 L215.70,753.06 L215.92,746.42 L216.15,739.77 L216.39,733.13 L216.63,726.49 L216.88,719.85 L217.14,713.21 L217.39,706.57 L217.65,699.92 L217.90,693.28 L218.15,686.64 L218.40,680.00 L218.95,673.31 L219.50,666.62 L220.05,659.93 L220.61,653.23 L221.16,646.54 L221.71,639.85 L222.26,633.16 L222.81,626.47 L223.36,619.78 L223.91,613.08 L224.46,606.39 L225.00,599.70 L225.54,593.01 L226.07,586.31 L226.60,579.62 L227.13,572.92 L227.65,566.23 L228.18,559.53 L228.71,552.84 L229.24,546.14 L229.77,539.45 L230.31,532.76 L230.85,526.08 L231.40,519.40 L231.95,512.75 L232.49,506.10 L233.03,499.45 L233.57,492.81 L234.12,486.16 L234.67,479.52 L235.23,472.88 L235.80,466.25 L236.40,459.61 L237.01,452.97 L237.64,446.34 L238.30,439.70 L238.98,432.90 L239.68,425.87 L240.39,418.67 L241.12,411.38 L241.86,404.10 L242.62,396.91 L243.40,389.87 L244.20,383.08 L245.02,376.62 L245.86,370.56 L246.72,365.00 L247.60,360.00 L248.10,357.43 L248.59,354.93 L249.09,352.51 L249.59,350.18 L250.09,347.95 L250.61,345.83 L251.13,343.84 L251.67,341.97 L252.23,340.24 L252.80,338.67 L253.39,337.25 L254.00,336.00 L254.31,335.44 L254.61,334.89 L254.93,334.37 L255.24,333.87 L255.56,333.40 L255.89,332.97 L256.21,332.59 L256.54,332.26 L256.88,331.99 L257.21,331.79 L257.56,331.66 L257.90,331.60 L258.27,331.63 L258.64,331.74 L259.03,331.93 L259.42,332.20 L259.82,332.52 L260.21,332.90 L260.61,333.34 L261.00,333.81 L261.39,334.32 L261.77,334.86 L262.14,335.42 L262.50,336.00 L263.18,337.24 L263.83,338.65 L264.46,340.23 L265.06,341.95 L265.64,343.82 L266.20,345.82 L266.75,347.93 L267.29,350.16 L267.82,352.49 L268.35,354.92 L268.87,357.42 L269.40,360.00 L270.33,364.99 L271.24,370.56 L272.12,376.61 L272.97,383.07 L273.79,389.86 L274.60,396.90 L275.38,404.10 L276.14,411.38 L276.88,418.66 L277.60,425.86 L278.31,432.90 L279.00,439.70 L279.67,446.34 L280.31,452.97 L280.92,459.61 L281.52,466.24 L282.09,472.88 L282.65,479.52 L283.19,486.16 L283.73,492.80 L284.25,499.45 L284.77,506.09 L285.28,512.75 L285.80,519.40 L286.31,526.08 L286.82,532.76 L287.32,539.45 L287.81,546.14 L288.30,552.83 L288.77,559.53 L289.23,566.22 L289.69,572.92 L290.13,579.61 L290.57,586.31 L290.99,593.01 L291.40,599.70 L291.80,606.50 L292.18,613.48 L292.55,620.59 L292.91,627.75 L293.26,634.92 L293.60,642.02 L293.93,649.01 L294.25,655.81 L294.57,662.37 L294.88,668.63 L295.19,674.53 L295.50,680.00 L295.70,683.30 L295.90,686.44 L296.10,689.45 L296.31,692.35 L296.50,695.14 L296.70,697.85 L296.89,700.49 L297.07,703.09 L297.25,705.65 L297.41,708.19 L297.56,710.74 L297.70,713.30 L297.81,715.54 L297.91,717.80 L297.99,720.06 L298.07,722.31 L298.15,724.53 L298.22,726.72 L298.28,728.85 L298.34,730.92 L298.41,732.92 L298.47,734.82 L298.53,736.62 L298.60,738.30 L298.64,739.30 L298.69,740.24 L298.73,741.14 L298.77,742.00 L298.81,742.83 L298.85,743.63 L298.89,744.42 L298.94,745.20 L298.98,745.98 L299.02,746.77 L299.06,747.57 L299.10,748.40 L310.80,742.60 L314.80,742.76 L318.80,742.94 L322.80,743.13 L326.80,743.34 L330.80,743.55 L334.80,743.79 L338.80,744.03 L342.80,744.28 L346.80,744.55 L350.80,744.82 L354.80,745.11 L358.80,745.41 L362.80,745.72 L366.80,746.03 L370.80,746.36 L374.80,746.69 L378.80,747.03 L382.80,747.38 L386.80,747.74 L390.80,748.10 L394.80,748.47 L398.80,748.85 L402.80,749.23 L406.80,749.62 L410.80,750.02 L414.80,750.43 L418.80,750.84 L422.80,751.27 L426.80,751.71 L430.80,752.15 L434.80,752.61 L438.80,753.09 L442.80,753.57 L446.80,754.07 L450.80,754.59 L454.80,755.12 L458.80,755.67 L462.80,756.23 L466.80,756.81 L470.80,757.41 L474.80,758.03 L478.80,758.67 L482.80,759.32 L486.80,760.00 L490.80,760.70 L494.80,761.42 L498.80,762.17 L502.80,762.94 L506.80,763.73 L510.80,764.55 L514.80,765.38 L518.80,766.24 L522.80,767.13 L526.80,768.03 L530.80,768.96 L534.80,769.91 L538.80,770.87 L542.80,771.86 L546.80,772.87 L550.80,773.90 L554.80,774.95 L558.80,776.01 L562.80,777.09 L566.80,778.18 L570.80,779.29 L574.80,780.40 L578.80,781.52 L582.80,782.65 L586.80,783.78 L590.80,784.92 L594.80,786.05 L598.80,787.19 L602.80,788.32 L606.80,789.45 L610.80,790.59 L614.80,791.71 L618.80,792.84 L622.80,793.96 L626.80,795.08 L630.80,796.20 L634.80,797.32 L638.80,798.43 L642.80,799.53 L646.80,800.63 L650.80,801.73 L654.80,802.82 L658.80,803.90 L662.80,804.98 L666.80,806.06 L670.80,807.12 L674.80,808.18 L678.80,809.24 L682.80,810.29 L686.80,811.33 L690.80,812.36 L694.80,813.39 L698.80,814.41 L702.80,815.43 L706.80,816.44 L710.80,817.45 L714.80,818.44 L718.80,819.43 L722.80,820.42 L726.80,821.40 L730.80,822.37 L734.80,823.34 L738.80,824.30 L742.80,825.26 L746.80,826.21 L750.80,827.15 L754.80,828.09 L758.80,829.02 L762.80,829.95 L766.80,830.87 L770.80,831.79 L774.80,832.69 L778.80,833.60 L782.80,834.50 L786.80,835.39 L790.80,836.27 L794.80,837.15 L798.80,838.03 L802.80,838.90 L806.80,839.76 L810.80,840.62 L814.80,841.47 L818.80,842.32 L822.80,843.16 L826.80,844.00 L830.80,844.83 L834.80,845.66 L838.80,846.48 L842.80,847.29 L846.80,848.10 L850.80,848.91 L854.80,849.71 L858.80,850.50 L862.80,851.29 L866.80,852.08 L870.80,852.86 L874.80,853.63 L878.80,854.40 L882.80,855.16 L886.80,855.92 L890.80,856.67 L894.80,857.42 L898.80,858.17 L902.80,858.90 L906.80,859.64 L910.80,860.37 L914.80,861.09 L918.80,861.81 L922.80,862.53 L926.80,863.24 L930.80,863.94 L934.80,864.64 L938.80,865.34 L942.80,866.03 L946.80,866.71 L950.80,867.40 L954.80,868.07 L958.80,868.75 L962.80,869.41 L966.80,870.08 L970.80,870.74 L974.80,871.39 L978.80,872.04 L982.80,872.69 L986.80,873.33 L990.80,873.97 L994.80,874.60 L998.80,875.23 L1002.80,875.85 L1006.80,876.47 L1010.80,877.09 L1014.80,877.70 L1018.80,878.31 L1022.80,878.91 L1026.80,879.51 L1030.80,880.11 L1034.80,880.70 L1038.80,881.28 L1042.80,881.87 L1046.80,882.45 L1050.80,883.02 L1054.80,883.59 L1058.80,884.16 L1062.80,884.72 L1066.80,885.28 L1070.80,885.84 L1074.80,886.39 L1078.80,886.94 L1082.80,887.48 L1086.80,888.02 L1090.80,888.56 L1094.80,889.09 L1098.80,889.62 L1102.80,890.15 L1106.80,890.67 L1110.80,891.19 L1114.80,891.70 L1118.80,892.22 L1122.80,892.72 L1126.80,893.23 L1130.80,893.73 L1134.80,894.23 L1138.80,894.72 L1142.80,895.21 L1146.80,895.70 L1150.80,896.18 L1154.80,896.67 L1158.80,897.14 L1162.80,897.62 L1166.80,898.09 L1170.80,898.56 L1174.80,899.02 L1178.80,899.49 L1182.80,899.94 L1186.80,900.40 L1190.80,900.85 L1194.80,901.30 L1198.80,901.75 L1202.80,902.19 L1206.80,902.63 L1210.80,903.07 L1214.80,903.51 L1218.80,903.94 L1222.80,904.37 L1226.80,904.79 L1230.80,905.22 L1234.80,905.64 L1238.80,906.06 L1242.80,906.47 L1246.80,906.88 L1250.80,907.29 L1254.80,907.70 L1258.80,908.11 L1262.80,908.51 L1266.80,908.91 L1270.80,909.31 L1274.80,909.70 L1278.80,910.09 L1282.80,910.48 L1286.10,910.80 L1287.06,911.92 L1288.10,913.01 L1289.16,914.11 L1290.21,915.23 L1291.20,916.37 L1292.12,917.56 L1292.93,918.81 L1293.60,920.13 L1294.15,921.51 L1294.63,922.93 L1295.08,924.35 L1295.52,925.78 L1295.95,927.21 L1296.38,928.65 L1296.79,930.09 L1297.19,931.53 L1297.59,932.98 L1297.97,934.43 L1298.35,935.88 L1298.72,937.33 L1299.08,938.79 L1299.43,940.25 L1299.77,941.71 L1300.11,943.17 L1300.44,944.64 L1300.75,946.11 L1301.06,947.58 L1301.37,949.05 L1301.66,950.52 L1301.95,951.99 L1302.23,953.47 L1302.50,954.94 L1302.77,956.42 L1303.03,957.90 L1303.28,959.37 L1303.53,960.85 L1303.77,962.33 L1304.01,963.81 L1304.24,965.30 L1304.47,966.78 L1304.69,968.26 L1304.91,969.74 L1305.12,971.23 L1305.33,972.71 L1305.54,974.20 L1305.74,975.68 L1305.94,977.17 L1306.14,978.66 L1306.34,980.14 L1306.53,981.63 L1306.73,983.12 L1306.92,984.60 L1307.11,986.09 L1307.30,987.58 L1307.49,989.07 L1307.69,990.55 L1307.88,992.04 L1308.07,993.53 L1308.26,995.01 L1308.45,996.50 L1308.65,997.99 L1308.85,999.47 L1309.05,1000.96 L1309.25,1002.45 L1309.45,1003.93 L1309.66,1005.42 L1309.87,1006.90 L1310.08,1008.39 L1310.30,1009.87 L1310.51,1011.35 L1310.73,1012.84 L1310.95,1014.32 L1311.17,1015.80 L1311.39,1017.29 L1311.62,1018.77 L1311.84,1020.25 L1312.07,1021.74 L1312.29,1023.22 L1312.52,1024.70 L1312.74,1026.19 L1312.97,1027.67 L1313.19,1029.15 L1313.42,1030.64 L1313.64,1032.12 L1313.87,1033.60 L1314.09,1035.09 L1314.31,1036.57 L1314.53,1038.06 L1314.76,1039.54 L1314.98,1041.02 L1315.20,1042.51 L1315.42,1043.99 L1315.65,1045.48 L1315.87,1046.96 L1316.10,1048.44 L1316.33,1049.93 L1316.56,1051.41 L1316.79,1052.89 L1317.02,1054.38 L1317.26,1055.86 L1317.50,1057.34 L1317.74,1058.82 L1317.99,1060.30 L1318.24,1061.78 L1318.49,1063.26 L1318.75,1064.73 L1319.01,1066.21 L1319.28,1067.69 L1319.55,1069.16 L1319.82,1070.64 L1320.10,1072.11 L1320.39,1073.58 L1320.68,1075.05 L1320.98,1076.52 L1321.28,1077.99 L1321.59,1079.46 L1321.90,1080.92 L1322.23,1082.39 L1322.55,1083.85 L1322.89,1085.31 L1323.24,1086.77 L1323.60,1088.23 L1323.97,1089.68 L1324.36,1091.12 L1324.76,1092.57 L1325.18,1094.00 L1325.62,1095.43 L1326.08,1096.86 L1326.57,1098.27 L1327.08,1099.68 L1327.61,1101.08 L1328.18,1102.47 L1328.77,1103.85 L1329.39,1105.22 L1330.04,1106.58 L1330.73,1107.93 L1331.46,1109.26 L1332.23,1110.57 L1333.04,1111.85 L1333.90,1113.09 L1334.82,1114.29 L1335.80,1115.43 L1336.85,1116.50 L1337.96,1117.51 L1339.13,1118.44 L1340.35,1119.30 L1341.63,1120.09 L1342.95,1120.80 L1344.32,1121.44 L1345.71,1121.99 L1347.14,1122.47 L1348.59,1122.88 L1350.06,1123.23 L1351.55,1123.52 L1353.04,1123.76 L1354.53,1123.96 L1356.02,1124.13 L1357.51,1124.26 L1359.01,1124.37 L1360.50,1124.44 L1362.00,1124.50 L1377.00,1124.50 L1630.00,1124.50"/>
</g>
<g>
<text font-size="70" transform="translate(209.50,1214.6) scale(0.93,1)" text-anchor="middle">0.0</text>
<text font-size="70" transform="translate(562.12,1214.6) scale(0.93,1)" text-anchor="middle">0.5</text>
<text font-size="70" transform="translate(914.75,1214.6) scale(0.93,1)" text-anchor="middle">1.0</text>
<text font-size="70" transform="translate(1267.38,1214.6) scale(0.93,1)" text-anchor="middle">1.5</text>
<text font-size="70" transform="translate(1620.00,1214.6) scale(0.93,1)" text-anchor="middle">2.0</text>
<text font-size="70" transform="translate(140.36,1145.90) scale(0.9539,1)">0</text>
<text font-size="70" transform="translate(143.88,966.23) scale(0.7669,1)">1</text>
<text font-size="70" transform="translate(138.41,786.57) scale(1.0370,1)">2</text>
<text font-size="70" transform="translate(140.96,606.90) scale(0.8473,1)">3</text>
<text font-size="70" transform="translate(140.67,427.23) scale(0.9005,1)">4</text>
<text font-size="70" transform="translate(139.98,247.57) scale(0.9398,1)">5</text>
<text font-size="70" transform="translate(140.08,67.90) scale(0.9697,1)">6</text>
<text font-size="70" transform="translate(469.33,572.00) scale(0.7426,1)">1</text>
<text font-size="70" transform="translate(454.81,715.00) scale(1.0370,1)">2</text>
<text font-size="70" transform="translate(451.80,834.30) scale(0.8646,1)">3</text>
<text font-size="70" transform="translate(456.35,980.80) scale(0.9158,1)">4</text>
</g>
<g font-size="89">
<text transform="translate(796,266.80) scale(0.956,1)">1. 840 J/cm<tspan font-size="42" dy="-37" dx="-1">2</tspan></text>
<text transform="translate(796,374.70) scale(0.956,1)">2. 630 J/cm<tspan font-size="42" dy="-37" dx="-1">2</tspan></text>
<text transform="translate(796,482.30) scale(0.956,1)">3. 420 J/cm<tspan font-size="42" dy="-37" dx="-1">2</tspan></text>
<text transform="translate(796,590.20) scale(0.956,1)">4. 210 J/cm<tspan font-size="42" dy="-37" dx="-1">2</tspan></text>
</g>
<text font-size="89" transform="translate(786.5,1304.3) scale(0.969,1)" xml:space="preserve"><tspan font-style="italic">x</tspan>  / cm</text>
<text font-size="89" transform="translate(88.9,722.3) rotate(-90)" xml:space="preserve">σ<tspan dx="2.8"> / G</tspan><tspan dx="-2.4">P</tspan><tspan dx="2.4">a</tspan></text>
</svg>
</body></html>
